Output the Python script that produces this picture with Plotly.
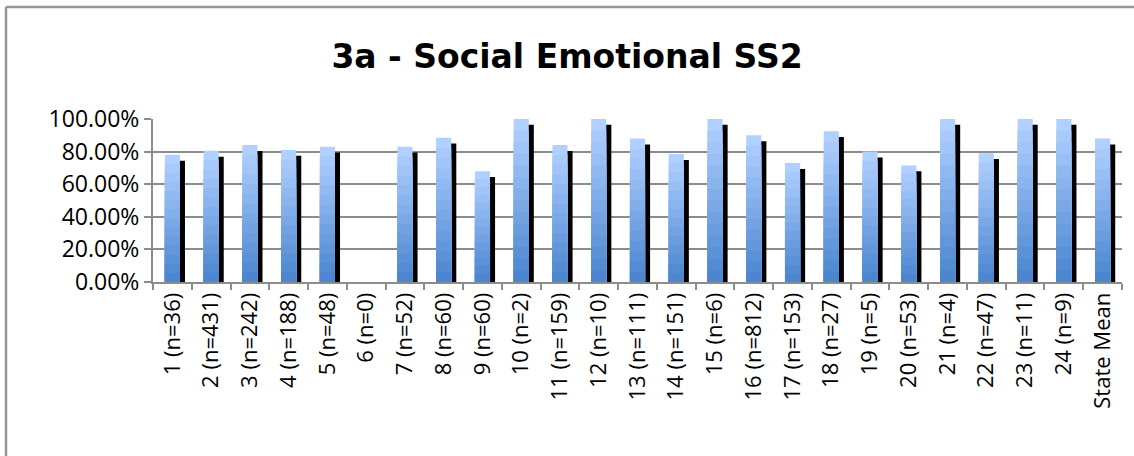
import plotly.graph_objects as go

categories = ["1 (n=36)", "2 (n=431)", "3 (n=242)", "4 (n=188)", "5 (n=48)", "6 (n=0)",
              "7 (n=52)", "8 (n=60)", "9 (n=60)", "10 (n=2)", "11 (n=159)", "12 (n=10)",
              "13 (n=111)", "14 (n=151)", "15 (n=6)", "16 (n=812)", "17 (n=153)", "18 (n=27)",
              "19 (n=5)", "20 (n=53)", "21 (n=4)", "22 (n=47)", "23 (n=11)", "24 (n=9)", "State Mean"]
values = [78, 80.5, 84, 81, 83, None,
          83, 88.5, 68, 100, 84, 100,
          88, 78.5, 100, 90, 73, 92.5,
          80, 71.5, 100, 79, 100, 100, 88]
y_ticks = [0, 20, 40, 60, 80, 100]
y_tick_labels = ["0.00%", "20.00%", "40.00%", "60.00%", "80.00%", "100.00%"]

W, H = 1134, 456
L, R, T, B = 153, 12, 119, 174

bar_w = 0.39
shadow_dx = 0.13
shadow_drop = 3.6

top_rgb = (176, 208, 255)
bot_rgb = (76, 134, 208)
N = 14

fig = go.Figure()

# shadow behind
fig.add_trace(go.Bar(
    x=categories,
    y=[None if v is None else v - shadow_drop for v in values],
    width=bar_w, offset=-bar_w / 2 + shadow_dx,
    marker=dict(color="#000000", line=dict(width=0)),
    hoverinfo="skip", showlegend=False,
))

# stepped vertical gradient for the bars
for k in range(N):
    t = k / (N - 1)
    c = tuple(int(round(top_rgb[i] + (bot_rgb[i] - top_rgb[i]) * t)) for i in range(3))
    frac = 1 - k / N
    fig.add_trace(go.Bar(
        x=categories,
        y=[None if v is None else v * frac for v in values],
        width=bar_w, offset=-bar_w / 2,
        marker=dict(color="rgb(%d,%d,%d)" % c, line=dict(width=0)),
        hoverinfo="skip", showlegend=False,
    ))

pw = W - L - R
ph = H - T - B

fig.update_layout(
    width=W, height=H,
    margin=dict(l=L, r=R, t=T, b=B),
    barmode="overlay",
    paper_bgcolor="white", plot_bgcolor="white",
    font=dict(family="Open Sans", color="#000000"),
    title=dict(text="<b>3a - Social Emotional SS2</b>",
               font=dict(family="DejaVu Sans", size=33, color="#000000"),
               x=0.5, xanchor="center", y=1 - 56 / H, yanchor="middle", yref="container"),
    xaxis=dict(
        type="category", categoryorder="array", categoryarray=categories,
        tickangle=-90, tickfont=dict(size=22, family="Open Sans"),
        showgrid=False, showline=True, linecolor="#8c8c8c", linewidth=2,
        ticks="outside", tickson="boundaries", ticklen=6, tickcolor="#8c8c8c", tickwidth=2,
        range=[-0.5, len(categories) - 0.5], fixedrange=True,
    ),
    yaxis=dict(
        range=[0, 100], tickvals=y_ticks, ticktext=y_tick_labels,
        tickfont=dict(size=23, family="Open Sans"),
        showgrid=True, gridcolor="#8c8c8c", gridwidth=1.5,
        showline=True, linecolor="#8c8c8c", linewidth=2,
        ticks="outside", ticklen=7, tickcolor="#8c8c8c", tickwidth=2,
        zeroline=False, fixedrange=True,
    ),
    shapes=[
        dict(type="line", xref="paper", yref="paper",
             x0=(6 - L) / pw, x1=(W + 10 - L) / pw,
             y0=(H - B - 7) / ph, y1=(H - B - 7) / ph,
             line=dict(color="#969696", width=2.5)),
        dict(type="line", xref="paper", yref="paper",
             x0=(6 - L) / pw, x1=(6 - L) / pw,
             y0=(H - B - 7) / ph, y1=(-B - 10) / ph,
             line=dict(color="#969696", width=2.5)),
    ],
)

fig.write_html("out.html",
               config={"displayModeBar": False},
               post_script="document.body.style.margin='0';document.body.style.overflow='hidden';")
